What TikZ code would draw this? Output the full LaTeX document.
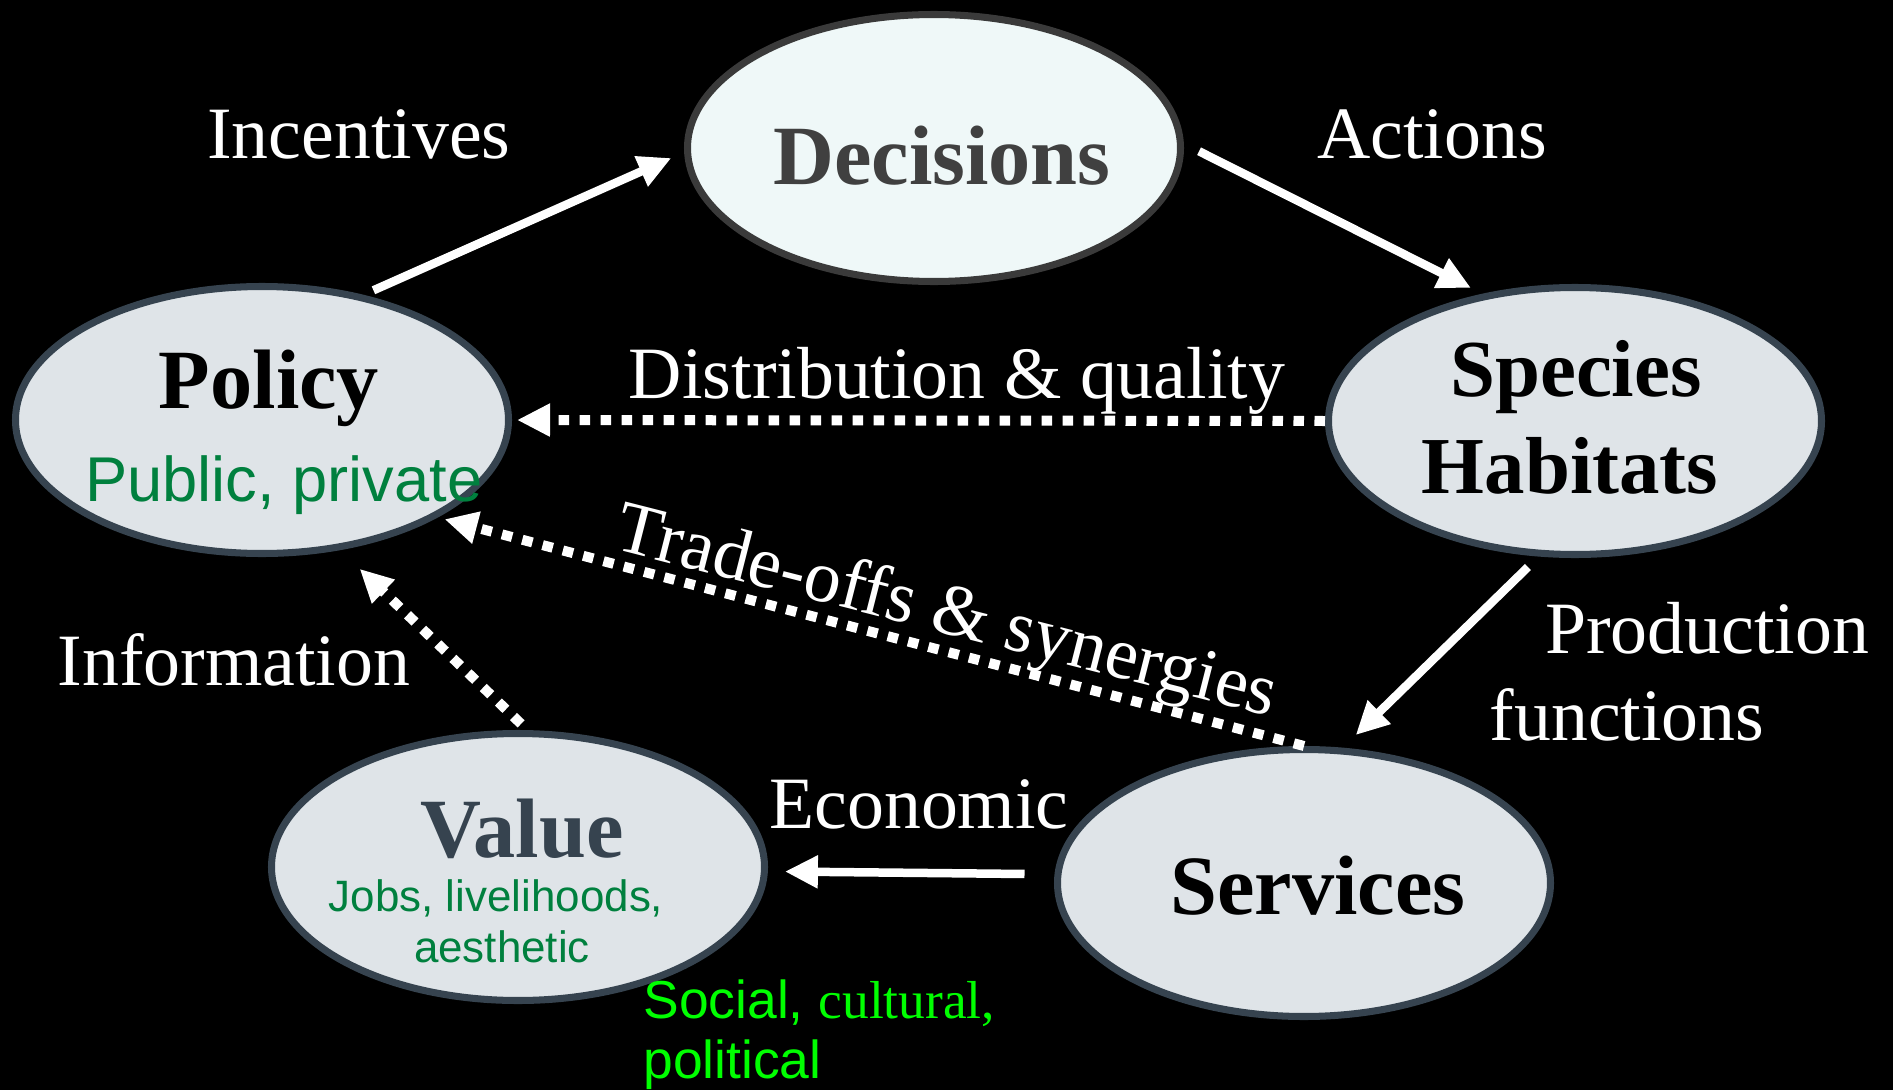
\documentclass[tikz,border=0pt]{standalone}
\usepackage{fontspec}
\setmainfont{Liberation Serif}
\setsansfont{Liberation Sans}
\usetikzlibrary{shapes.geometric,arrows.meta}
\definecolor{ovalfill}{HTML}{DFE4E8}
\definecolor{ovalline}{HTML}{36434F}
\definecolor{decfill}{HTML}{EFF8F8}
\definecolor{decline}{HTML}{3A3A3A}
\definecolor{dectext}{HTML}{404040}
\definecolor{pubgreen}{HTML}{00803E}
\definecolor{limegreen}{HTML}{00FF00}
\begin{document}
\begin{tikzpicture}[
  oval/.style={ellipse, draw=ovalline, fill=ovalfill, line width=2pt, minimum width=4.93cm, minimum height=2.67cm, inner sep=0pt},
  title/.style={font=\fontsize{24}{29}\selectfont\bfseries, anchor=base},
  sub/.style={font=\sffamily\fontsize{18}{21}\selectfont, text=pubgreen, anchor=base},
  lbl/.style={text=white, font=\fontsize{21}{25}\selectfont, anchor=base},
  link/.style={draw=white, line width=0.085cm, -{Triangle[length=0.33cm,width=0.31cm]}},
  dotlink/.style={link, line width=0.1cm, dash pattern=on 0.105cm off 0.105cm}]
\useasboundingbox (0,0) rectangle (18.93,10.90);
\fill[black] (0,0) rectangle (18.93,10.90);
\node[oval, draw=decline, fill=decfill] (decisions) at (9.34,9.42) {};
\node[oval] (policy) at (2.62,6.70) {};
\node[oval] (species) at (15.75,6.69) {};
\node[oval] (services) at (13.04,2.07) {};
\node[oval] (value) at (5.18,2.23) {};
\node[title, text=dectext] (dectxt) at (9.42,9.06) {Decisions};
\node[title] (policytxt) at (2.69,6.82) {Policy};
\node[sub] (policysub) at (2.84,5.89) {Public, private};
\node[title, font=\fontsize{23}{28}\selectfont\bfseries] (speciestxt) at (15.76,6.94) {Species};
\node[title, font=\fontsize{23}{28}\selectfont\bfseries] (habitatstxt) at (15.70,5.97) {Habitats};
\node[title] (servicestxt) at (13.18,1.76) {Services};
\node[title, text=ovalline] (valuetxt) at (5.22,2.33) {Value};
\node[sub, font=\sffamily\fontsize{12.5}{15}\selectfont] (jobstxt) at (4.96,1.79) {Jobs, livelihoods,};
\node[sub, font=\sffamily\fontsize{12.5}{15}\selectfont] (aesthtxt) at (5.02,1.28) {aesthetic};
\node[sub, text=limegreen, font=\fontsize{15.2}{18}\selectfont, anchor=base west] (socialtxt) at (6.31,0.72) {\sffamily Social, \rmfamily cultural,};
\node[sub, text=limegreen, font=\sffamily\fontsize{15.2}{18}\selectfont, anchor=base west] (politicaltxt) at (6.31,0.12) {political};
\node[lbl] (incentives) at (3.59,9.32) {Incentives};
\node[lbl] (actions) at (14.32,9.32) {Actions};
\node[lbl] (distribution) at (9.57,6.92) {Distribution \& quality};
\node[lbl, anchor=center, rotate=-14.3] (tradeoffs) at (9.46,4.75) {Trade-offs \& synergies};
\node[lbl] (information) at (2.34,4.05) {Information};
\node[lbl] (production) at (17.07,4.37) {Production};
\node[lbl] (functions) at (16.27,3.50) {functions};
\node[lbl] (economic) at (9.19,2.62) {Economic};
\draw[link, shorten <=0.11cm, shorten >=0.14cm] (policy.51.6) -- (decisions.181.5);
\draw[link, shorten <=0.17cm, shorten >=0.13cm] (decisions.1.5) -- (species.126.7);
\draw[dotlink, shorten >=0.05cm] (species.180) -- (policy.0);
\draw[dotlink, shorten >=0.07cm] (services.90) -- (policy.-29.7);
\draw[link, shorten <=0.15cm, shorten >=0.18cm] (species.255.4) -- (services.74.6);
\draw[link, shorten <=0.30cm, shorten >=0.17cm] (services.178.4) -- (value.-1.7);
\draw[dotlink, shorten <=0.09cm, shorten >=0.27cm] (value.86) -- (policy.-59);
\end{tikzpicture}
\end{document}
